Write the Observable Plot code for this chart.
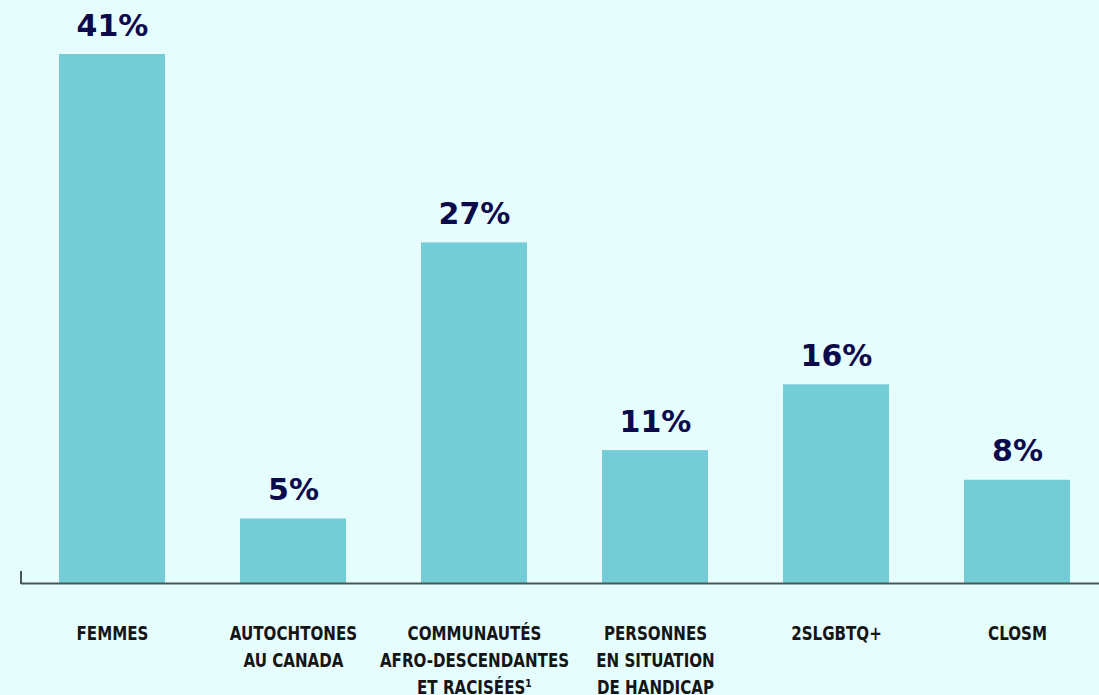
<!DOCTYPE html>
<html>
<head>
<meta charset="utf-8">
<script src="https://cdn.jsdelivr.net/npm/d3@7"></script>
<script src="https://cdn.jsdelivr.net/npm/@observablehq/plot@0.6"></script>
<style>
  html, body { margin: 0; padding: 0; background: #e6fdfe; }
  #chart svg { display: block; }
</style>
</head>
<body>
<div id="chart"></div>
<script>
const categories = [
  "FEMMES",
  "AUTOCHTONES\nAU CANADA",
  "COMMUNAUTÉS\nAFRO-DESCENDANTES\nET RACISÉES¹",
  "PERSONNES\nEN SITUATION\nDE HANDICAP",
  "2SLGBTQ+",
  "CLOSM"
];
const values = [41, 5, 26.4, 10.3, 15.4, 8];
const valueLabels = ["41%", "5%", "27%", "11%", "16%", "8%"];

const data = categories.map((c, i) => ({cat: c, value: values[i], label: valueLabels[i]}));

const plot = Plot.plot({
  width: 1099,
  height: 695,
  marginLeft: 30,
  marginRight: 0,
  marginTop: 54,
  marginBottom: 112,
  style: {background: "transparent", fontFamily: "'DejaVu Sans Condensed', 'DejaVu Sans', sans-serif"},
  x: {domain: categories, paddingInner: 0.416, paddingOuter: 0.1545, label: null},
  y: {domain: [0, 41], axis: null},
  marks: [
    Plot.barY(data, {x: "cat", y: "value", fill: "#74cdd6"}),
    Plot.ruleY([0], {stroke: "#4a5858", strokeWidth: 2, insetLeft: -9}),
    Plot.text(data, {
      x: "cat", y: "value", text: "label",
      lineAnchor: "bottom", dy: -19,
      fill: "#0c0a4a", fontSize: 30, fontWeight: "bold",
      fontFamily: "'DejaVu Sans', sans-serif"
    }),
    Plot.axisX({
      tickSize: 0, tickPadding: 37, fontSize: 20, fontWeight: "bold",
      lineHeight: 1.35, fill: "#151515", label: null
    })
  ]
});

document.getElementById("chart").appendChild(plot);

// narrow the category labels horizontally (condensed look)
d3.select(plot).selectAll("g[aria-label='x-axis tick label'] text").each(function() {
  const t = this.getAttribute("transform") || "";
  this.setAttribute("transform", t + " scale(0.84,1)");
});

// small left end tick of the baseline
const y0 = plot.scale("y").apply(0);
d3.select(plot).append("line")
  .attr("x1", 21).attr("x2", 21)
  .attr("y1", y0 - 12).attr("y2", y0 + 1)
  .attr("stroke", "#4a5858").attr("stroke-width", 2);
</script>
</body>
</html>
